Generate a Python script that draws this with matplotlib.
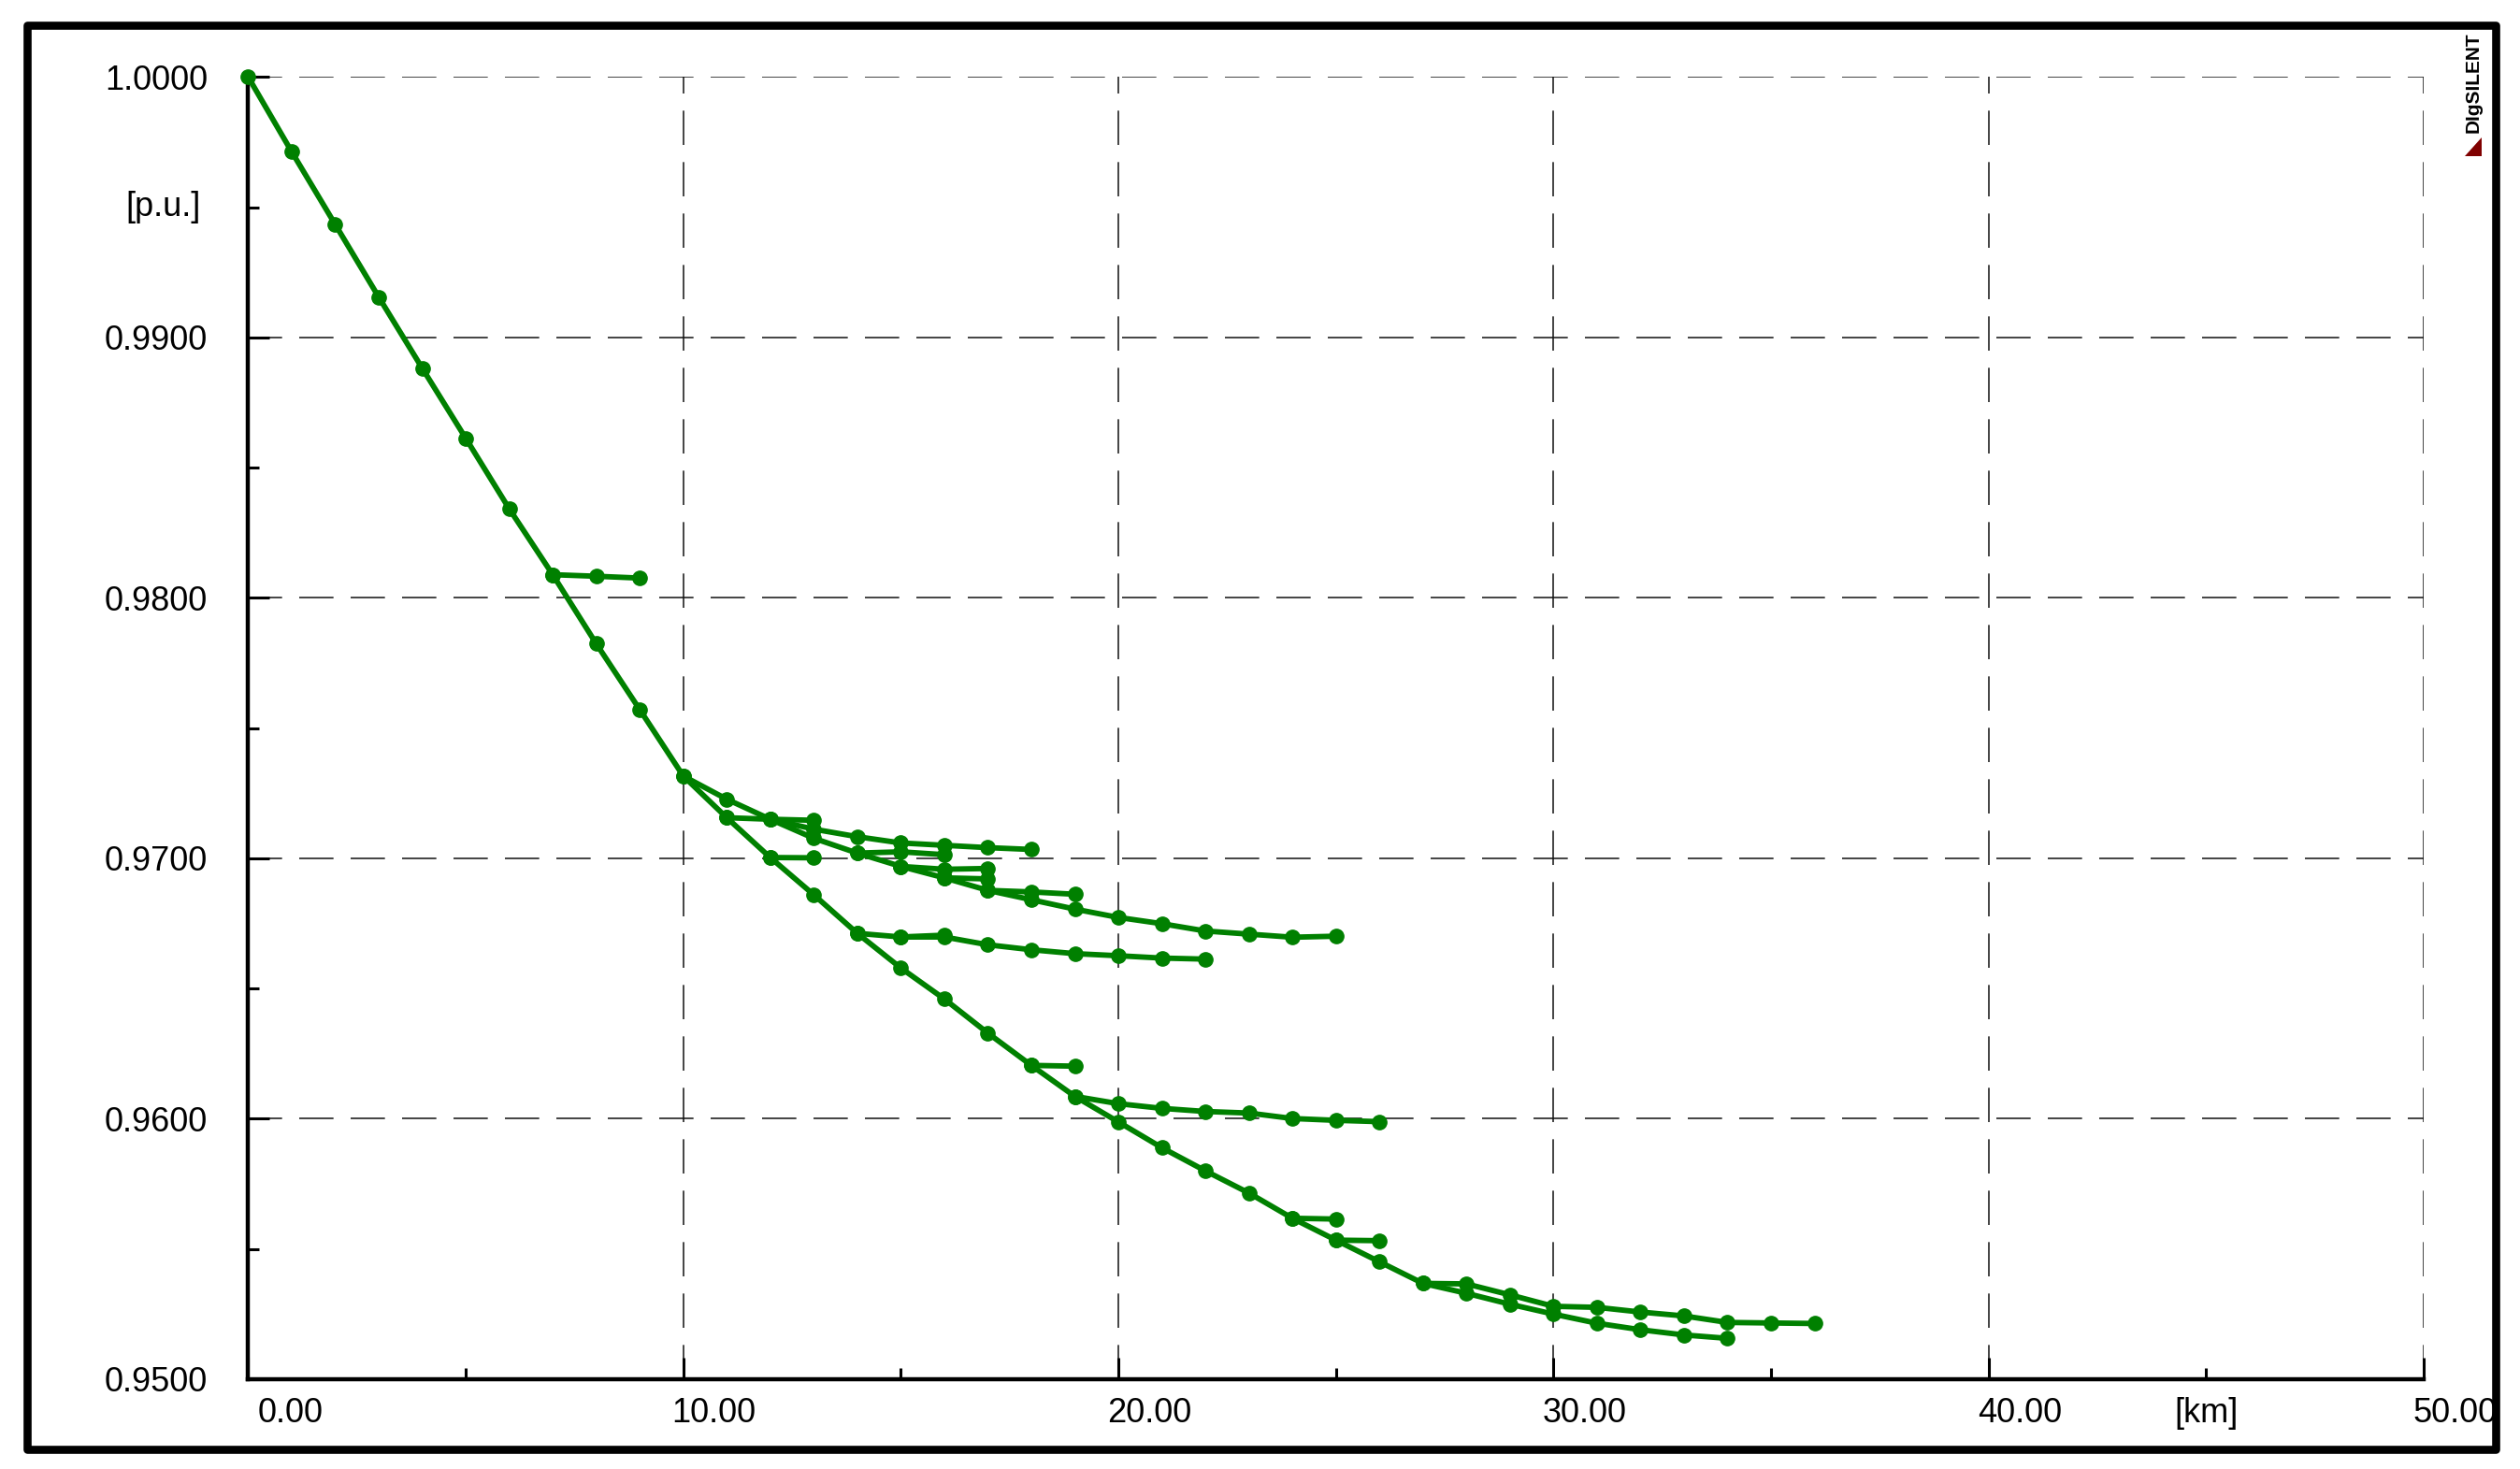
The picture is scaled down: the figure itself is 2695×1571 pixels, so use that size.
import matplotlib
matplotlib.use("Agg")
import matplotlib.pyplot as plt
from matplotlib.patches import Rectangle, Polygon
from matplotlib.transforms import ScaledTranslation

plt.rcParams['font.family'] = ['Liberation Sans Narrow', 'Liberation Sans', 'DejaVu Sans']

# main feeder
trunk_km = list(range(0, 35))
trunk_pu = [1.00000, 0.99713, 0.99434, 0.99155, 0.98882, 0.98613, 0.98342, 0.98089,
            0.97824, 0.97571, 0.97316, 0.97156, 0.97003, 0.96860, 0.96712, 0.96579,
            0.96460, 0.96329, 0.96205, 0.96086, 0.95988, 0.95889, 0.95800, 0.95715,
            0.95618, 0.95534, 0.95451, 0.95368, 0.95330, 0.95288, 0.95250, 0.95215,
            0.95190, 0.95170, 0.95157]

# laterals
br7_km = [7, 8, 9]
br7_pu = [0.98089, 0.98083, 0.98076]

br_top_km = [10, 11, 12, 13, 14, 15, 16, 17, 18]
br_top_pu = [0.97316, 0.97227, 0.97150, 0.97112, 0.97083, 0.97059, 0.97050, 0.97041, 0.97034]

br11_km = [11, 12, 13]
br11_pu = [0.97156, 0.97150, 0.97146]

br12_km = [12, 13]
br12_pu = [0.97003, 0.97002]

br25_km = [12, 13, 14, 15, 16, 17, 18, 19, 20, 21, 22, 23, 24, 25]
br25_pu = [0.97150, 0.97077, 0.97020, 0.96969, 0.96925, 0.96877, 0.96841, 0.96805,
           0.96773, 0.96749, 0.96721, 0.96709, 0.96697, 0.96701]

br14_km = [14, 15, 16]
br14_pu = [0.97020, 0.97025, 0.97014]

br15_km = [15, 16, 17]
br15_pu = [0.96969, 0.96958, 0.96961]

br16_km = [16, 17]
br16_pu = [0.96925, 0.96921]

br17_km = [17, 18, 19]
br17_pu = [0.96877, 0.96871, 0.96862]

br22_km = [14, 15, 16, 17, 18, 19, 20, 21, 22]
br22_pu = [0.96712, 0.96698, 0.96698, 0.96668, 0.96649, 0.96634, 0.96626, 0.96617, 0.96613]

br15b_km = [15, 16]
br15b_pu = [0.96698, 0.96705]

br18_km = [18, 19]
br18_pu = [0.96205, 0.96202]

br26_km = [19, 20, 21, 22, 23, 24, 25, 26]
br26_pu = [0.96086, 0.96058, 0.96040, 0.96028, 0.96022, 0.96001, 0.95994, 0.95989]

br24_km = [24, 25]
br24_pu = [0.95618, 0.95615]

br25s_km = [25, 26]
br25s_pu = [0.95534, 0.95532]

br36_km = [27, 28, 29, 30, 31, 32, 33, 34, 35, 36]
br36_pu = [0.95368, 0.95366, 0.95324, 0.95280, 0.95276, 0.95258, 0.95243, 0.95218, 0.95216, 0.95214]

branches = [(trunk_km, trunk_pu), (br7_km, br7_pu), (br_top_km, br_top_pu),
            (br11_km, br11_pu), (br12_km, br12_pu), (br25_km, br25_pu),
            (br14_km, br14_pu), (br15_km, br15_pu), (br16_km, br16_pu),
            (br17_km, br17_pu), (br22_km, br22_pu), (br15b_km, br15b_pu),
            (br18_km, br18_pu), (br26_km, br26_pu), (br24_km, br24_pu),
            (br25s_km, br25s_pu), (br36_km, br36_pu)]

x_ticks = [0, 10, 20, 30, 40, 50]
x_labels = ['0.00', '10.00', '20.00', '30.00', '40.00', '50.00']
y_ticks = [0.95, 0.96, 0.97, 0.98, 0.99, 1.00]
y_labels = ['0.9500', '0.9600', '0.9700', '0.9800', '0.9900', '1.0000']

W, H = 2695, 1571
fig = plt.figure(figsize=(W / 100, H / 100), dpi=100)
ax = fig.add_axes([265.4 / W, 1 - 1475 / H, (2592 - 265.4) / W, (1475 - 82.3) / H])

green = '#008000'
for km, pu in branches:
    ax.plot(km, pu, color=green, lw=4.2, marker='o', ms=11, clip_on=False,
            solid_joinstyle='round', solid_capstyle='round', zorder=3)

ax.set_xlim(0, 50)
ax.set_ylim(0.95, 1.0)
ax.set_xticks(x_ticks)
ax.set_xticklabels(x_labels)
ax.set_xticks([5, 15, 25, 35, 45], minor=True)
ax.set_yticks(y_ticks)
ax.set_yticklabels(y_labels)
ax.set_yticks([0.955, 0.965, 0.975, 0.985, 0.995], minor=True)

ax.grid(True, which='major', color='#111111', lw=1.1, linestyle=(0, (24, 12)))
ax.set_axisbelow(True)

for s in ['top', 'right']:
    ax.spines[s].set_visible(False)
for s in ['left', 'bottom']:
    ax.spines[s].set_linewidth(3.2)

ax.tick_params(which='major', direction='in', length=16.5, width=2.2, labelsize=26)
ax.tick_params(which='minor', direction='in', length=8.5, width=2.2)
ax.tick_params(axis='y', which='major', pad=31)
ax.tick_params(axis='x', which='major', pad=14)

for i, lbl in enumerate(ax.get_xticklabels()):
    lbl.set_horizontalalignment('left')
    dx = 10 if i == 0 else -12
    lbl.set_transform(lbl.get_transform() + ScaledTranslation(dx / 100, 0, fig.dpi_scale_trans))

# axis unit labels
ax.text(45, 0, '[km]', fontsize=26, ha='center', va='top',
        transform=ax.get_xaxis_transform() + ScaledTranslation(0, -0.19, fig.dpi_scale_trans))
ax.text(-51 / (2592 - 265.4), 0.995, '[p.u.]', fontsize=26, ha='right', va='center',
        transform=ax.get_yaxis_transform())

# outer frame
fig.patches.append(Rectangle((29 / W, 1 - 1550 / H), (2669 - 29) / W, (1550 - 27) / H,
                             transform=fig.transFigure, fill=False, lw=6.2,
                             edgecolor='black', joinstyle='round'))

# logo
fig.text(2645 / W, 1 - 88 / H, 'DIgSILENT', rotation=90, fontsize=15, fontweight='bold',
         family=['Liberation Sans', 'DejaVu Sans'], ha='center', va='center')
fig.patches.append(Polygon([(2654 / W, 1 - 147 / H), (2654 / W, 1 - 167 / H), (2636 / W, 1 - 167 / H)],
                           closed=True, transform=fig.transFigure, facecolor='#800000',
                           edgecolor='none'))

fig.savefig('out.png', dpi=100)
